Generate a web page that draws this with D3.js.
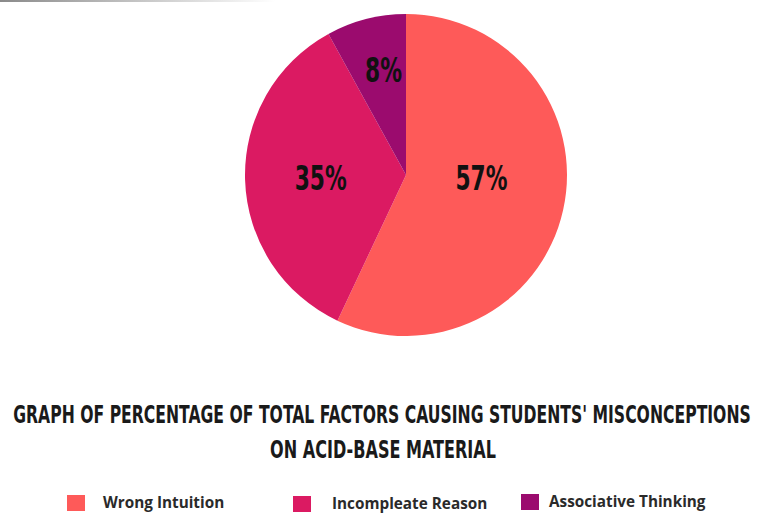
<!DOCTYPE html>
<html><head><meta charset="utf-8">
<script src="https://cdn.jsdelivr.net/npm/d3@7"></script>
<style>
html,body{margin:0;padding:0;background:#fff;}
svg{display:block;}
</style></head>
<body>
<script>
const categories = ["Wrong Intuition", "Incompleate Reason", "Associative Thinking"];
const values = [57, 35, 8];
const labels = ["57%", "35%", "8%"];
const colors = ["#FE5A59", "#DB1A62", "#9B0B6E"];
const titleLines = ["GRAPH OF PERCENTAGE OF TOTAL FACTORS CAUSING STUDENTS' MISCONCEPTIONS", "ON ACID-BASE MATERIAL"];

const W = 759, H = 513;
const svg = d3.select("body").append("svg").attr("width", W).attr("height", H);

// faint top rule
const defs = svg.append("defs");
const g0 = defs.append("linearGradient").attr("id", "topline").attr("x1", "0").attr("x2", "1");
g0.append("stop").attr("offset", "0").attr("stop-color", "#8a8a8a");
g0.append("stop").attr("offset", "1").attr("stop-color", "#ffffff");
svg.append("rect").attr("x", 0).attr("y", 0).attr("width", 275).attr("height", 2).attr("fill", "url(#topline)");

const cx = 406, cy = 175, R = 161;
const pie = d3.pie().sort(null).value(d => d)(values);
const arc = d3.arc().innerRadius(0).outerRadius(R);
const g = svg.append("g").attr("transform", `translate(${cx},${cy})`);
g.selectAll("path").data(pie).join("path")
  .attr("d", arc).attr("fill", (d, i) => colors[i]);

const condensed = "'DejaVu Sans Condensed','Liberation Sans Narrow',sans-serif";

// labels placed from each slice's centroid, nudged into the visual centre of the slice
const labelArc = d3.arc().innerRadius(0).outerRadius(R);
const fx = [0.96, 1.06, 1.0], offX = [0, 0, -2.5];
g.selectAll("text.pct").data(pie).join("text")
  .attr("class", "pct")
  .attr("font-family", condensed)
  .attr("font-weight", "bold")
  .attr("font-size", 34)
  .attr("fill", "#111")
  .attr("text-anchor", "middle")
  .attr("lengthAdjust", "spacingAndGlyphs")
  .attr("textLength", (d, i) => labels[i].length === 3 ? 52 : 37)
  .attr("transform", (d, i) => {
    const [x, y] = labelArc.centroid(d);
    const ly = i === 2 ? y - 15 : 15;
    const lx = x * fx[i] + offX[i];
    return `translate(${lx},${ly})`;
  })
  .text((d, i) => labels[i]);

// title: squeeze horizontally to the reference width
function fitText(str, cxMid, baseY, width) {
  const t = svg.append("text")
    .attr("x", 0).attr("y", 0)
    .attr("text-anchor", "middle")
    .attr("font-family", condensed)
    .attr("font-weight", "bold").attr("font-size", 24.5).attr("fill", "#1a1a1a")
    .text(str);
  const L = t.node().getComputedTextLength();
  t.attr("transform", `translate(${cxMid},${baseY}) scale(${width / L},1)`);
}
fitText(titleLines[0], 382, 423, 738);
fitText(titleLines[1], 383, 458, 226);

// legend
const legX = [67, 293, 521];
const legY = [495, 496, 494];
const leg = svg.append("g").selectAll("g").data(categories).join("g")
  .attr("transform", (d, i) => `translate(${legX[i]},${legY[i]})`);
leg.append("rect").attr("width", 18).attr("height", 16).attr("fill", (d, i) => colors[i]);
leg.append("text")
  .attr("x", (d, i) => i === 2 ? 28 : (i === 1 ? 39 : 36))
  .attr("y", 13)
  .attr("font-family", "'Open Sans',sans-serif").attr("font-weight", "bold")
  .attr("font-size", 15.3).attr("fill", "#2a2a2a")
  .text(d => d);
</script>
</body></html>
